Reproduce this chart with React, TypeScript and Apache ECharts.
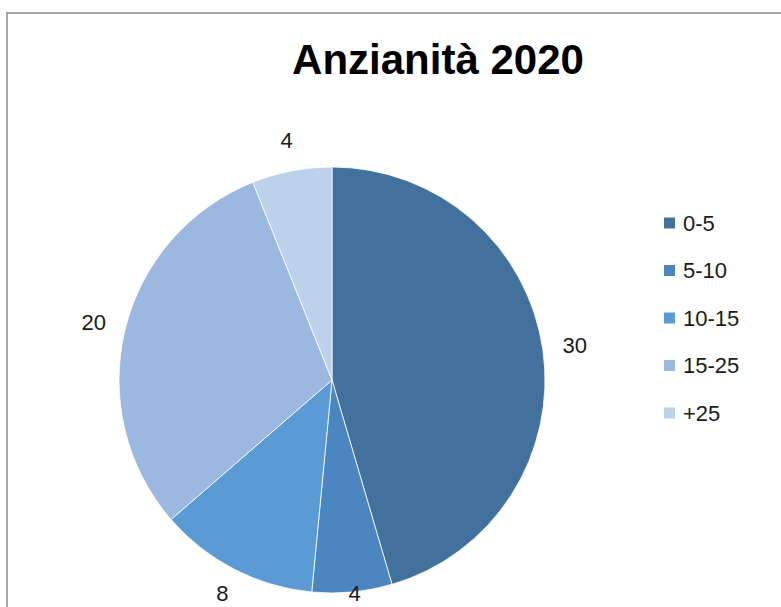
import React, { useEffect, useRef } from "react";
import * as echarts from "echarts";

const titleText = "Anzianità 2020";
const categories = ["0-5", "5-10", "10-15", "15-25", "+25"];
const values = [30, 4, 8, 20, 4];
const colors = ["#41719C", "#4C86C0", "#5B9BD5", "#9BB9E0", "#BDD1EA"];

const CX = 332;
const CY = 380;
const R = 213;
const GAP = 20;

export default function App() {
  const ref = useRef<HTMLDivElement>(null);
  useEffect(() => {
    if (!ref.current) return;
    const chart = echarts.init(ref.current, null, { renderer: "svg" });
    const total = values.reduce((a, b) => a + b, 0);
    const mids: number[] = [];
    let acc = 0;
    values.forEach((v) => {
      mids.push(((acc + v / 2) / total) * Math.PI * 2);
      acc += v;
    });
    chart.setOption({
      animation: false,
      backgroundColor: "#ffffff",
      title: {
        text: titleText,
        left: 433,
        top: 33,
        textAlign: "center",
        textStyle: {
          fontFamily: "Liberation Sans",
          fontWeight: "bold",
          fontSize: 42,
          color: "#000000",
        },
      },
      legend: {
        orient: "vertical",
        left: 657,
        top: 207,
        itemWidth: 13,
        itemHeight: 13,
        itemGap: 25.5,
        icon: "rect",
        data: categories,
        textStyle: {
          fontFamily: "Liberation Sans",
          fontSize: 22,
          lineHeight: 22,
          color: "#1a1a1a",
          padding: [0, 0, 0, 2],
        },
      },
      graphic: [
        {
          type: "rect",
          shape: { x: 7, y: 13, width: 900, height: 800 },
          style: { fill: "none", stroke: "#8a8a8a", lineWidth: 1.5 },
          silent: true,
        },
      ],
      series: [
        {
          type: "pie",
          center: [CX, CY],
          radius: R,
          startAngle: 90,
          clockwise: true,
          avoidLabelOverlap: false,
          itemStyle: { borderColor: "#ffffff", borderWidth: 0.8 },
          label: {
            show: true,
            position: "outside",
            formatter: "{c}",
            fontFamily: "Liberation Sans",
            fontSize: 22,
            lineHeight: 22,
            color: "#1a1a1a",
          },
          labelLine: { show: false, length: 15, length2: 0 },
          labelLayout: (params: any) => {
            const a = mids[params.dataIndex];
            const dx = Math.sin(a);
            const dy = -Math.cos(a);
            const w = params.labelRect.width;
            const h = params.labelRect.height;
            const x = CX + dx * (R + GAP) + (dx * w) / 2;
            let y = CY + dy * (R + GAP) + (dy * h) / 2;
            y = Math.min(y, 593);
            return { x, y, align: "center", verticalAlign: "middle" };
          },
          emphasis: { disabled: true },
          data: categories.map((name, i) => ({
            name,
            value: values[i],
            itemStyle: { color: colors[i] },
          })),
        },
      ],
    });
    return () => chart.dispose();
  }, []);
  return (
    <div
      ref={ref}
      style={{ position: "fixed", left: 0, top: 0, width: 781, height: 607 }}
    />
  );
}
